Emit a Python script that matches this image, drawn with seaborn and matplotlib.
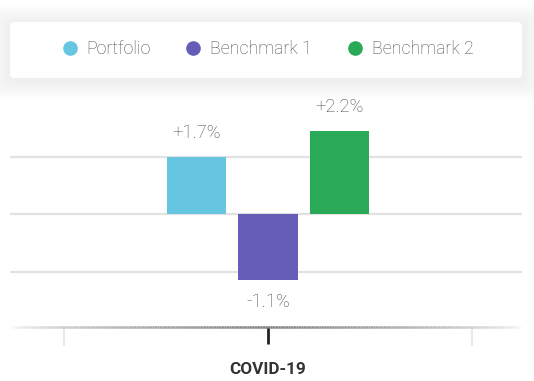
import numpy as np
import pandas as pd
import matplotlib
matplotlib.use("Agg")
import matplotlib.pyplot as plt
import seaborn as sns
from matplotlib.lines import Line2D
from matplotlib.patches import FancyBboxPatch
from matplotlib.collections import LineCollection

# data
periods = ["COVID-19"]
series = ["Portfolio", "Benchmark 1", "Benchmark 2"]
# bar heights in gridline units (gridlines sit at +/-1.7)
heights = [1.7, -1.95, 2.48]
labels = ["+1.7%", "-1.1%", "+2.2%"]
colors = ["#66c5e0", "#655db8", "#2aaa57"]

df = pd.DataFrame({
    "period": periods * len(series),
    "series": series,
    "value": heights,
})

sns.set_theme(style="white")
plt.rcParams["font.family"] = ["Roboto", "DejaVu Sans"]

fig = plt.figure(figsize=(5.34, 3.81), dpi=100)
ax = fig.add_axes([10 / 534, 54 / 381, 512 / 534, 224 / 381])

sns.barplot(data=df, x="period", y="value", hue="series", palette=colors,
            width=0.525, gap=0.17, saturation=1, legend=False, ax=ax,
            linewidth=0, edgecolor="none", zorder=3)

ax.set_xlim(-0.631, 0.622)
ax.set_ylim(-3.34, 3.3)

# gridlines
ax.set_yticks([-1.7, 0, 1.7])
ax.set_yticklabels([])
ax.tick_params(axis="y", length=0)
ax.grid(axis="y", color="#e2e2e2", linewidth=1.6, zorder=0)

for s in ["left", "right", "top", "bottom"]:
    ax.spines[s].set_visible(False)

# bottom axis line fading at the edges
xs = np.linspace(0, 1, 200)
segs = [[(xs[i], 0), (xs[i + 1], 0)] for i in range(len(xs) - 1)]
mid = (xs[:-1] + xs[1:]) / 2
fade = np.clip(1 - np.abs(mid - 0.5) * 2, 0, 1) ** 0.6
cols = [(1 - 0.5 * f, 1 - 0.5 * f, 1 - 0.5 * f, 1) for f in fade]
lc = LineCollection(segs, colors=cols, linewidths=1.8,
                    transform=ax.transAxes, clip_on=False, zorder=4)
ax.add_collection(lc)

# ticks
ax.set_xticks([0])
ax.set_xticklabels(periods)
ax.set_xticks([-0.5, 0.5], minor=True)
ax.tick_params(axis="x", which="major", length=12, width=2, color="#222222",
               pad=13, labelsize=12.3, labelcolor="#333333", bottom=True)
ax.tick_params(axis="x", which="minor", length=13.5, width=1.5,
               color="#e8e8e8", bottom=True)
for t in ax.get_xticklabels():
    t.set_fontweight("bold")
ax.set_xlabel("")
ax.set_ylabel("")

# value labels
for bar, lab, h in zip(ax.patches, labels, heights):
    x = bar.get_x() + bar.get_width() / 2
    off = 17 if h > 0 else -16
    ax.annotate(lab, (x, h), xytext=(0, off), textcoords="offset points",
                ha="center", va="center", fontsize=13.3, color="#4a4a4a",
                fontweight="light", clip_on=False)

# legend card with a very soft shadow
for i in range(16, 0, -1):
    fig.patches.append(FancyBboxPatch(
        (10 / 534, (381 - 81) / 381), 512 / 534, 58 / 381,
        boxstyle=f"round,pad={i * 0.003},rounding_size=0.02",
        transform=fig.transFigure, facecolor="black", edgecolor="none",
        alpha=0.002, zorder=0))
fig.patches.append(FancyBboxPatch(
    (10 / 534, (381 - 78) / 381), 512 / 534, 56 / 381,
    boxstyle="round,pad=0,rounding_size=0.01",
    transform=fig.transFigure, facecolor="white", edgecolor="none", zorder=1))

handles = [Line2D([], [], marker="o", linestyle="", markersize=9.5,
                  markerfacecolor=c, markeredgecolor=c) for c in colors]
leg = fig.legend(handles, series, loc="center", ncol=3,
                 bbox_to_anchor=(0.5, (381 - 49) / 381), frameon=False,
                 fontsize=12.8, handletextpad=0.45, columnspacing=1.9,
                 handlelength=1.0)
for t in leg.get_texts():
    t.set_color("#4f4f4f")
    t.set_fontweight("light")

fig.savefig("out.png", dpi=100)
